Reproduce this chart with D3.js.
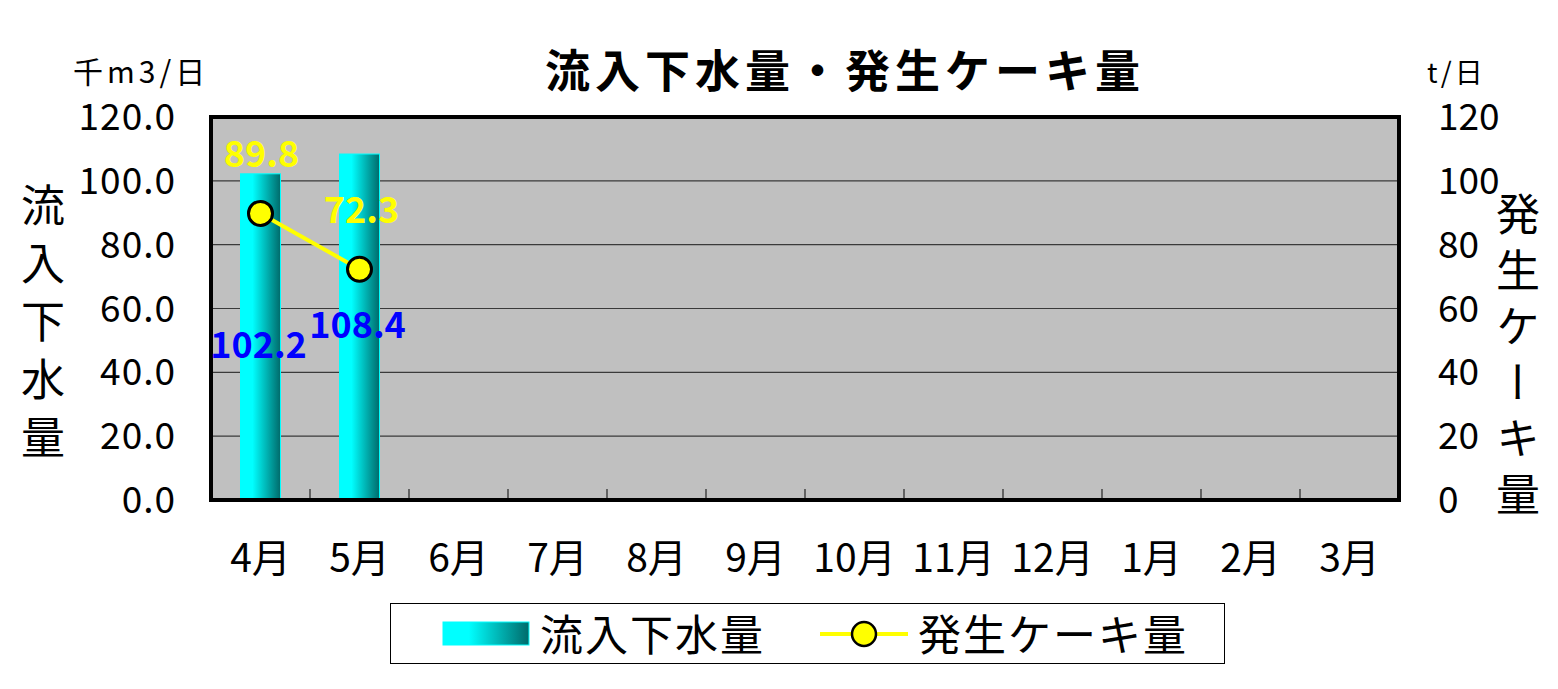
<!DOCTYPE html>
<html>
<head>
<meta charset="utf-8">
<script src="https://cdn.jsdelivr.net/npm/d3@7"></script>
<style>
  body { margin:0; background:#fff; }
  text { font-family:"Noto Sans CJK JP", sans-serif; }
</style>
</head>
<body>
<svg id="chart"></svg>
<script>
var months = ["4月","5月","6月","7月","8月","9月","10月","11月","12月","1月","2月","3月"];
var inflow = [102.2, 108.4];   // 流入下水量 千m3/日
var cake = [89.8, 72.3];       // 発生ケーキ量 t/日
var leftTicks = [0,20,40,60,80,100,120];
var rightTicks = [0,20,40,60,80,100,120];

var screen = {width:1558, height:689};
var plot = {left:211, right:1399, top:117, bottom:500};

var svg = d3.select("#chart")
    .attr("width", screen.width)
    .attr("height", screen.height);

var defs = svg.append("defs");
var grad = defs.append("linearGradient")
    .attr("id","barGrad")
    .attr("x1","0%").attr("x2","100%").attr("y1","0%").attr("y2","0%");
grad.append("stop").attr("offset","0%").attr("stop-color","#00ffff");
grad.append("stop").attr("offset","30%").attr("stop-color","#00ffff");
grad.append("stop").attr("offset","100%").attr("stop-color","#006a6a");

var xScale = d3.scaleBand()
    .domain(months)
    .range([plot.left, plot.right]);

var yLeft = d3.scaleLinear()
    .domain([0,120])
    .range([plot.bottom, plot.top]);

var yRight = d3.scaleLinear()
    .domain([0,120])
    .range([plot.bottom, plot.top]);

// plot background
svg.append("rect")
    .attr("x", plot.left).attr("y", plot.top)
    .attr("width", plot.right-plot.left)
    .attr("height", plot.bottom-plot.top)
    .style("fill","#c0c0c0");

// gridlines
svg.append("g")
    .selectAll("line")
    .data(leftTicks.slice(1, -1))
    .enter().append("line")
    .attr("x1", plot.left).attr("x2", plot.right)
    .attr("y1", function(d){ return yLeft(d); })
    .attr("y2", function(d){ return yLeft(d); })
    .style("stroke","#3a3a3a")
    .style("stroke-width",1.2);

// category boundary ticks
svg.append("g")
    .selectAll("line")
    .data(months.slice(1))
    .enter().append("line")
    .attr("x1", function(d){ return xScale(d); })
    .attr("x2", function(d){ return xScale(d); })
    .attr("y1", plot.bottom)
    .attr("y2", plot.bottom-11)
    .style("stroke","#222")
    .style("stroke-width",1.2);

// bars
var barW = 40;
svg.append("g")
    .selectAll("rect")
    .data(inflow)
    .enter().append("rect")
    .attr("x", function(d,i){ return xScale(months[i]) + xScale.bandwidth()/2 - barW/2; })
    .attr("y", function(d){ return yLeft(d); })
    .attr("width", barW)
    .attr("height", function(d){ return plot.bottom - yLeft(d); })
    .style("fill","url(#barGrad)")
    .style("stroke","#00ffff")
    .style("stroke-width",1);

// frame
svg.append("rect")
    .attr("x", plot.left).attr("y", plot.top)
    .attr("width", plot.right-plot.left)
    .attr("height", plot.bottom-plot.top)
    .style("fill","none")
    .style("stroke","#000")
    .style("stroke-width",4);

// line
var line = d3.line()
    .x(function(d,i){ return xScale(months[i]) + xScale.bandwidth()/2; })
    .y(function(d){ return yRight(d); });

svg.append("path")
    .datum(cake)
    .attr("d", line)
    .style("fill","none")
    .style("stroke","#ffff00")
    .style("stroke-width",4);

svg.append("g")
    .selectAll("circle")
    .data(cake)
    .enter().append("circle")
    .attr("cx", function(d,i){ return xScale(months[i]) + xScale.bandwidth()/2; })
    .attr("cy", function(d){ return yRight(d); })
    .attr("r", 12)
    .style("fill","#ffff00")
    .style("stroke","#000")
    .style("stroke-width",3);

// bar labels
svg.append("g")
    .selectAll("text")
    .data(inflow)
    .enter().append("text")
    .attr("x", function(d,i){ return xScale(months[i]) + xScale.bandwidth()/2 - 2; })
    .attr("y", function(d){ return yLeft(d) + 184; })
    .attr("text-anchor","middle")
    .style("font-size","36px")
    .style("font-weight","bold")
    .style("fill","#0000ff")
    .text(function(d){ return d.toFixed(1); });

// line labels
svg.append("g")
    .selectAll("text")
    .data(cake)
    .enter().append("text")
    .attr("x", function(d,i){ return xScale(months[i]) + xScale.bandwidth()/2 + (i==0 ? 1 : 2); })
    .attr("y", function(d){ return yRight(d) - 46; })
    .attr("text-anchor","middle")
    .style("font-size","36px")
    .style("font-weight","bold")
    .style("fill","#ffff00")
    .text(function(d){ return d.toFixed(1); });

// left axis labels
svg.append("g")
    .selectAll("text")
    .data(leftTicks)
    .enter().append("text")
    .attr("x", 176)
    .attr("y", function(d){ return yLeft(d) + 13; })
    .attr("text-anchor","end")
    .style("font-size","37px")
    .style("letter-spacing","1px")
    .text(function(d){ return d.toFixed(1); });

// right axis labels
svg.append("g")
    .selectAll("text")
    .data(rightTicks)
    .enter().append("text")
    .attr("x", 1438)
    .attr("y", function(d){ return yRight(d) + 13; })
    .attr("text-anchor","start")
    .style("font-size","37px")
    .text(function(d){ return d; });

// x labels
svg.append("g")
    .selectAll("text")
    .data(months)
    .enter().append("text")
    .attr("x", function(d){ return xScale(d) + xScale.bandwidth()/2; })
    .attr("y", 572)
    .attr("text-anchor","middle")
    .style("font-size","39px")
    .text(function(d){ return d; });

// title
svg.append("text")
    .attr("x", 845)
    .attr("y", 88)
    .attr("text-anchor","middle")
    .style("font-size","45px")
    .style("font-weight","bold")
    .style("letter-spacing","5px")
    .text("流入下水量・発生ケーキ量");

// units
svg.append("text")
    .attr("x", 73).attr("y", 83)
    .style("font-size","30px")
    .style("letter-spacing","4px")
    .text("千m3/日");
svg.append("text")
    .attr("x", 1427).attr("y", 83)
    .style("font-size","28px")
    .style("letter-spacing","3px")
    .text("t/日");

// vertical axis titles
svg.append("text")
    .attr("x", 43).attr("y", 183)
    .attr("writing-mode","tb")
    .style("font-size","44px")
    .style("letter-spacing","14px")
    .text("流入下水量");

svg.append("text")
    .attr("x", 1518).attr("y", 192)
    .attr("writing-mode","tb")
    .style("font-size","44px")
    .style("letter-spacing","12px")
    .text("発生ケーキ量");

// legend
var legend = svg.append("g");
legend.append("rect")
    .attr("x", 390.5).attr("y", 603.5)
    .attr("width", 834).attr("height", 60)
    .style("fill","#fff")
    .style("stroke","#000")
    .style("stroke-width",1);
legend.append("rect")
    .attr("x", 443).attr("y", 622)
    .attr("width", 86).attr("height", 23)
    .style("fill","url(#barGrad)")
    .style("stroke","#00ffff");
legend.append("text")
    .attr("x", 540).attr("y", 651)
    .style("font-size","43px")
    .style("letter-spacing","2px")
    .text("流入下水量");
legend.append("line")
    .attr("x1", 820).attr("x2", 908)
    .attr("y1", 634).attr("y2", 634)
    .style("stroke","#ffff00")
    .style("stroke-width",4);
legend.append("circle")
    .attr("cx", 864).attr("cy", 634).attr("r", 12)
    .style("fill","#ffff00")
    .style("stroke","#000")
    .style("stroke-width",2.5);
legend.append("text")
    .attr("x", 918).attr("y", 651)
    .style("font-size","43px")
    .style("letter-spacing","2px")
    .text("発生ケーキ量");
</script>
</body>
</html>
